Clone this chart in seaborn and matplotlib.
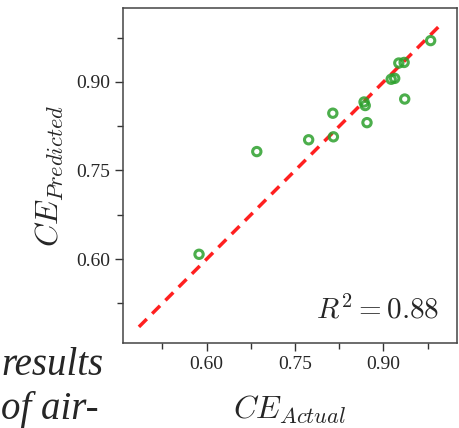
import matplotlib
matplotlib.use("Agg")
import matplotlib.pyplot as plt
from matplotlib import font_manager
import seaborn as sns
import pandas as pd
from matplotlib.ticker import MultipleLocator

# values
ce_actual = [0.587, 0.685, 0.773, 0.814, 0.815, 0.867, 0.869, 0.872,
             0.913, 0.919, 0.926, 0.935, 0.936, 0.980]
ce_predicted = [0.608, 0.782, 0.802, 0.847, 0.807, 0.866, 0.860, 0.831,
                0.9045, 0.906, 0.932, 0.933, 0.871, 0.970]
fit_line = [0.485, 1.0]
r2_value = 0.88

sns.set_theme(style="ticks")
plt.rcParams["font.family"] = ["Liberation Serif", "DejaVu Serif"]
plt.rcParams["mathtext.fontset"] = "cm"

# a Times-like italic for the cropped page text
italic_fams = {f.name for f in font_manager.fontManager.ttflist if f.style == "italic"}
page_font = "DejaVu Serif"
for cand in ("Liberation Serif", "Tinos", "Times New Roman", "Crimson Text", "EB Garamond"):
    if cand in italic_fams:
        page_font = cand
        break

df = pd.DataFrame({"actual": ce_actual, "predicted": ce_predicted})

fig = plt.figure(figsize=(4.59, 4.28), dpi=100)
ax = fig.add_axes([0.268, 0.199, 0.728, 0.782])

sns.scatterplot(data=df, x="actual", y="predicted", ax=ax, marker="o",
                s=36, facecolor="none", edgecolor="#2ca02c", linewidth=2.2,
                alpha=0.85, zorder=3)
sns.lineplot(x=fit_line, y=fit_line, ax=ax, color="#ff2020", lw=2.5,
             linestyle=(0, (3.2, 2.2)), zorder=2)

ax.set_xlim(0.458, 1.025)
ax.set_ylim(0.458, 1.025)
for axis in (ax.xaxis, ax.yaxis):
    axis.set_minor_locator(MultipleLocator(0.075))
ax.set_xticks([0.60, 0.75, 0.90])
ax.set_yticks([0.60, 0.75, 0.90])
ax.set_xticklabels(["0.60", "0.75", "0.90"], family="Liberation Serif")
ax.set_yticklabels(["0.60", "0.75", "0.90"], family="Liberation Serif")
ax.tick_params(which="major", length=6, width=1, labelsize=14, color="#333333")
ax.tick_params(which="minor", length=4, width=1, color="#333333")
for sp in ax.spines.values():
    sp.set_color("#444444")
    sp.set_linewidth(1.1)

ax.set_xlabel(r"$CE_{Actual}$", fontsize=23, labelpad=15)
ax.set_ylabel(r"$CE_{Predicted}$", fontsize=23, labelpad=7)
ax.text(0.946, 0.072, r"$R^2 = %.2f$" % r2_value, transform=ax.transAxes,
        ha="right", va="baseline", fontsize=21)

# page text cropped in at the lower left
fig.text(0.003, 0.124, "results", fontsize=28, style="italic", family=page_font,
         ha="left", va="baseline")
fig.text(0.003, 0.022, "of air-", fontsize=28, style="italic", family=page_font,
         ha="left", va="baseline")

fig.savefig("out.png", dpi=100)
